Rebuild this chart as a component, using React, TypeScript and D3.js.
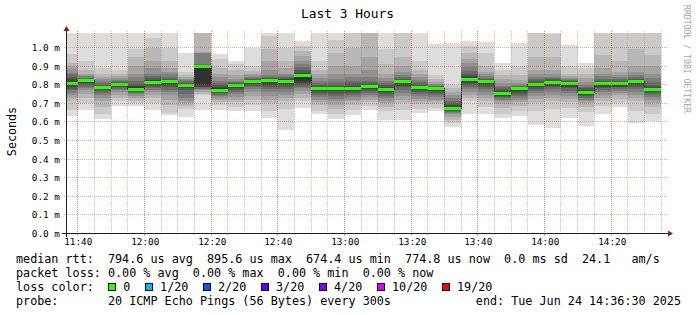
import React from 'react';
import * as d3 from 'd3';

// ---------- data ----------
const titleText = 'Last 3 Hours';
const yLabel = 'Seconds';
const watermark = 'RRDTOOL / TOBI OETIKER';
const yTicks = [0.0, 0.1, 0.2, 0.3, 0.4, 0.5, 0.6, 0.7, 0.8, 0.9, 1.0];
const yMax = 1.078;
const startTime = new Date(2025, 5, 24, 11, 36, 30);
const endTime = new Date(2025, 5, 24, 14, 36, 30);
const firstBarStart = new Date(2025, 5, 24, 11, 35, 0);
const stepMinutes = 5;

// median rtt per 5-minute step (ms)
const medians = [
  0.805, 0.82, 0.787, 0.80, 0.775, 0.813, 0.815, 0.796, 0.8956, 0.771,
  0.795, 0.819, 0.82, 0.818, 0.847, 0.78, 0.78, 0.78, 0.789, 0.775,
  0.817, 0.787, 0.78, 0.6744, 0.83, 0.818, 0.752, 0.777, 0.802, 0.813,
  0.807, 0.757, 0.807, 0.806, 0.815, 0.7748,
];

// 20 sorted ping rtts per step (ms)
const pings = [
  [0.631, 0.666, 0.711, 0.729, 0.747, 0.756, 0.769, 0.778, 0.787, 0.798, 0.816, 0.828, 0.841, 0.855, 0.864, 0.882, 0.90, 0.918, 0.963, 1.15],
  [0.666, 0.70, 0.73, 0.75, 0.77, 0.78, 0.79, 0.80, 0.81, 0.815, 0.824, 0.828, 0.832, 0.838, 0.845, 0.85, 0.86, 0.88, 0.927, 1.15],
  [0.618, 0.64, 0.68, 0.71, 0.73, 0.745, 0.755, 0.765, 0.775, 0.785, 0.79, 0.795, 0.80, 0.81, 0.82, 0.83, 0.84, 0.855, 0.89, 1.15],
  [0.684, 0.71, 0.73, 0.745, 0.76, 0.77, 0.778, 0.785, 0.79, 0.797, 0.805, 0.81, 0.815, 0.82, 0.825, 0.835, 0.845, 0.86, 0.88, 1.15],
  [0.684, 0.70, 0.715, 0.73, 0.74, 0.75, 0.755, 0.76, 0.765, 0.77, 0.785, 0.795, 0.805, 0.82, 0.84, 0.86, 0.90, 0.95, 0.99, 1.15],
  [0.666, 0.70, 0.73, 0.745, 0.76, 0.77, 0.78, 0.79, 0.80, 0.81, 0.82, 0.826, 0.835, 0.845, 0.86, 0.89, 0.93, 1.0, 1.05, 1.15],
  [0.636, 0.65, 0.69, 0.72, 0.745, 0.76, 0.77, 0.785, 0.80, 0.81, 0.82, 0.825, 0.83, 0.84, 0.855, 0.87, 0.89, 0.93, 1.0, 1.15],
  [0.625, 0.67, 0.685, 0.70, 0.71, 0.73, 0.75, 0.77, 0.78, 0.79, 0.80, 0.805, 0.81, 0.82, 0.825, 0.83, 0.84, 0.85, 0.87, 0.972],
  [0.666, 0.747, 0.75, 0.76, 0.77, 0.775, 0.778, 0.785, 0.79, 0.80, 0.8956, 0.903, 0.906, 0.91, 0.968, 0.972, 0.975, 1.09, 1.12, 1.15],
  [0.664, 0.69, 0.705, 0.72, 0.73, 0.74, 0.745, 0.755, 0.76, 0.765, 0.78, 0.79, 0.80, 0.81, 0.82, 0.84, 0.86, 0.89, 0.94, 0.967],
  [0.656, 0.68, 0.705, 0.72, 0.735, 0.75, 0.76, 0.77, 0.78, 0.79, 0.80, 0.805, 0.81, 0.815, 0.82, 0.83, 0.85, 0.88, 0.91, 0.927],
  [0.656, 0.69, 0.72, 0.74, 0.76, 0.775, 0.785, 0.795, 0.805, 0.815, 0.822, 0.825, 0.83, 0.835, 0.84, 0.85, 0.86, 0.875, 0.90, 0.996],
  [0.62, 0.66, 0.70, 0.72, 0.74, 0.76, 0.775, 0.79, 0.80, 0.815, 0.825, 0.83, 0.835, 0.84, 0.85, 0.88, 0.93, 0.99, 1.06, 1.15],
  [0.559, 0.67, 0.71, 0.73, 0.745, 0.76, 0.775, 0.79, 0.80, 0.815, 0.822, 0.83, 0.835, 0.84, 0.85, 0.86, 0.89, 0.93, 1.0, 1.15],
  [0.675, 0.71, 0.73, 0.75, 0.765, 0.78, 0.79, 0.80, 0.81, 0.82, 0.85, 0.865, 0.88, 0.895, 0.91, 0.93, 0.955, 0.98, 1.01, 1.033],
  [0.645, 0.66, 0.69, 0.705, 0.72, 0.735, 0.745, 0.755, 0.765, 0.775, 0.785, 0.79, 0.80, 0.81, 0.82, 0.835, 0.855, 0.88, 0.93, 1.15],
  [0.615, 0.64, 0.67, 0.69, 0.71, 0.725, 0.74, 0.75, 0.765, 0.775, 0.785, 0.79, 0.80, 0.815, 0.83, 0.86, 0.90, 0.97, 1.04, 1.15],
  [0.637, 0.665, 0.69, 0.71, 0.72, 0.735, 0.745, 0.755, 0.765, 0.775, 0.785, 0.795, 0.81, 0.82, 0.84, 0.86, 0.90, 1.0, 1.10, 1.15],
  [0.664, 0.685, 0.705, 0.72, 0.735, 0.745, 0.755, 0.765, 0.775, 0.785, 0.795, 0.80, 0.81, 0.82, 0.84, 0.88, 0.95, 1.08, 1.12, 1.15],
  [0.612, 0.66, 0.68, 0.70, 0.715, 0.73, 0.74, 0.75, 0.76, 0.77, 0.78, 0.79, 0.80, 0.81, 0.82, 0.835, 0.86, 0.91, 0.99, 1.15],
  [0.61, 0.665, 0.70, 0.72, 0.74, 0.755, 0.77, 0.785, 0.795, 0.81, 0.82, 0.825, 0.83, 0.84, 0.85, 0.87, 0.90, 0.95, 1.08, 1.15],
  [0.647, 0.67, 0.695, 0.71, 0.725, 0.74, 0.75, 0.76, 0.77, 0.78, 0.79, 0.795, 0.805, 0.815, 0.825, 0.84, 0.86, 0.88, 0.93, 1.15],
  [0.656, 0.675, 0.695, 0.71, 0.72, 0.735, 0.745, 0.755, 0.765, 0.775, 0.782, 0.785, 0.79, 0.795, 0.80, 0.805, 0.815, 0.83, 0.85, 1.02],
  [0.572, 0.595, 0.61, 0.625, 0.64, 0.65, 0.655, 0.66, 0.665, 0.67, 0.68, 0.69, 0.70, 0.715, 0.73, 0.745, 0.76, 0.78, 0.80, 1.022],
  [0.64, 0.71, 0.73, 0.745, 0.76, 0.775, 0.785, 0.80, 0.81, 0.82, 0.835, 0.845, 0.86, 0.875, 0.895, 0.915, 0.94, 0.97, 1.01, 1.033],
  [0.645, 0.68, 0.71, 0.73, 0.745, 0.76, 0.775, 0.79, 0.80, 0.81, 0.82, 0.825, 0.83, 0.835, 0.845, 0.855, 0.87, 0.90, 0.97, 1.03],
  [0.62, 0.645, 0.675, 0.695, 0.71, 0.72, 0.73, 0.735, 0.74, 0.745, 0.755, 0.765, 0.775, 0.785, 0.795, 0.81, 0.83, 0.85, 0.88, 0.918],
  [0.63, 0.66, 0.685, 0.705, 0.72, 0.73, 0.74, 0.75, 0.76, 0.77, 0.78, 0.785, 0.79, 0.795, 0.80, 0.81, 0.825, 0.85, 0.90, 1.026],
  [0.586, 0.66, 0.70, 0.725, 0.74, 0.755, 0.765, 0.775, 0.785, 0.795, 0.805, 0.81, 0.82, 0.83, 0.84, 0.855, 0.88, 0.95, 1.10, 1.15],
  [0.565, 0.67, 0.71, 0.73, 0.745, 0.76, 0.775, 0.785, 0.795, 0.805, 0.815, 0.822, 0.83, 0.835, 0.84, 0.855, 0.88, 0.95, 1.07, 1.12],
  [0.62, 0.675, 0.705, 0.725, 0.74, 0.755, 0.765, 0.78, 0.79, 0.80, 0.81, 0.815, 0.82, 0.825, 0.83, 0.835, 0.845, 0.86, 0.90, 1.013],
  [0.58, 0.655, 0.68, 0.70, 0.71, 0.72, 0.73, 0.74, 0.745, 0.752, 0.762, 0.77, 0.78, 0.79, 0.80, 0.815, 0.835, 0.86, 0.89, 0.918],
  [0.645, 0.685, 0.715, 0.73, 0.745, 0.76, 0.77, 0.78, 0.79, 0.80, 0.81, 0.815, 0.82, 0.83, 0.845, 0.86, 0.89, 0.96, 1.10, 1.15],
  [0.682, 0.70, 0.725, 0.745, 0.755, 0.765, 0.775, 0.785, 0.79, 0.80, 0.81, 0.815, 0.82, 0.83, 0.84, 0.85, 0.87, 0.93, 1.10, 1.15],
  [0.596, 0.66, 0.71, 0.73, 0.745, 0.76, 0.775, 0.79, 0.80, 0.81, 0.82, 0.825, 0.83, 0.84, 0.85, 0.87, 0.90, 0.99, 1.10, 1.15],
  [0.605, 0.64, 0.68, 0.70, 0.72, 0.735, 0.745, 0.755, 0.765, 0.775, 0.783, 0.79, 0.80, 0.815, 0.835, 0.86, 0.90, 0.96, 1.10, 1.15],
];

const lossLabels = ['0', '1/20', '2/20', '3/20', '4/20', '10/20', '19/20'];
const lossColors = ['#26ff00', '#00b8ff', '#0059ff', '#5e00ff', '#7e00ff', '#dd00ff', '#ff0000'];

const legendLine1 = 'median rtt:  794.6 us avg  895.6 us max  674.4 us min  774.8 us now  0.0 ms sd  24.1   am/s';
const legendLine2 = 'packet loss: 0.00 % avg  0.00 % max  0.00 % min  0.00 % now';
const legendLine3 = 'loss color:';
const legendLine4 = 'probe:       20 ICMP Echo Pings (56 Bytes) every 300s';
const legendEnd = 'end: Tue Jun 24 14:36:30 2025';

// ---------- layout ----------
const W = 697;
const H = 315;
const X0 = 66;
const X1 = 666;
const Y0 = 233;
const Y1 = 33;
const MONO = '"DejaVu Sans Mono", "Liberation Mono", monospace';
const CH = 7.07; // legend char advance

export default function App() {
  const x = d3.scaleTime().domain([startTime, endTime]).range([X0, X1]);
  const y = d3.scaleLinear().domain([0, yMax]).range([Y0 + 0.5, Y1]);

  const barStarts = medians.map((_, i) => d3.timeMinute.offset(firstBarStart, i * stepMinutes));
  const barEnd = (t: Date) => d3.timeMinute.offset(t, stepMinutes);

  // smokeping smoke colours (outermost band lightest)
  const half = 10;
  const smokeColors = d3.range(1, half + 1).map((i) => {
    const c = Math.floor((190 / half) * (half - i)) + 50;
    return d3.rgb(c, c, c).formatHex();
  });

  const majorTimes = d3.timeMinute.every(20)!.range(startTime, endTime);
  const minorTimes = d3.timeMinute.every(5)!.range(startTime, endTime);
  const fmt = d3.timeFormat('%H:%M');
  const px = (v: number) => Math.floor(v) + 0.5;

  const medPts: [number, number][] = barStarts.map((t, i) => [x(t), y(medians[i])]);
  medPts.push([x(barEnd(barStarts[barStarts.length - 1])), y(medians[medians.length - 1])]);
  const medPath = d3.line().curve(d3.curveStepAfter)(medPts) || '';

  const swidth = 1.5;

  // loss legend layout
  let lx = 108.3;
  const lossItems = lossLabels.map((lab, i) => {
    const item = { box: lx, text: lx + 15, lab, color: lossColors[i] };
    lx = lx + 29.7 + lab.length * CH;
    return item;
  });

  const gridGray = 'rgb(143,143,143)';
  const gridRed = 'rgb(222,79,79)';
  const grayOp = 0.45;
  const redOp = 0.5;

  return (
    <div style={{ position: 'absolute', left: 0, top: 0 }}>
      <svg width={W} height={H} viewBox={`0 0 ${W} ${H}`} style={{ display: 'block', background: '#ffffff' }}>
        <defs>
          <clipPath id="plotClip">
            <rect x={X0} y={Y1} width={X1 - X0} height={Y0 - Y1 + 0.5} />
          </clipPath>
        </defs>
        <rect x={0} y={0} width={W} height={H} fill="#ffffff" />

        {/* smoke */}
        <g clipPath="url(#plotClip)" shapeRendering="crispEdges">
          {barStarts.map((t, b) => {
            const xa = x(t);
            const xb = x(barEnd(t));
            const p = pings[b];
            return (
              <g key={b}>
                {smokeColors.map((c, i) => {
                  const lo = p[i];
                  const hi = p[19 - i];
                  return (
                    <rect key={i} x={xa} width={xb - xa} y={y(hi)} height={y(lo) - y(hi)} fill={c} />
                  );
                })}
              </g>
            );
          })}
          <path d={medPath} fill="none" stroke="#202020" strokeWidth={1} />
          {barStarts.map((t, b) => {
            const xa = x(t);
            const xb = x(barEnd(t));
            return (
              <rect key={'m' + b} x={xa} width={xb - xa} y={y(medians[b]) - swidth} height={swidth * 2} fill={lossColors[0]} />
            );
          })}
        </g>

        {/* grid */}
        <g shapeRendering="crispEdges">
          {minorTimes.map((t, i) => (
            <g key={'mi' + i}>
              <line x1={px(x(t))} x2={px(x(t))} y1={Y1 - 2} y2={Y0 + 2} stroke={gridGray} strokeOpacity={grayOp} strokeDasharray="1,1" />
              <line x1={px(x(t))} x2={px(x(t))} y1={Y0} y2={Y0 + 2} stroke={gridGray} strokeOpacity={grayOp} />
            </g>
          ))}
          {majorTimes.map((t, i) => (
            <g key={'ma' + i}>
              <line x1={px(x(t))} x2={px(x(t))} y1={Y1 - 2} y2={Y0 + 2} stroke={gridRed} strokeOpacity={redOp} strokeDasharray="1,1" />
              <line x1={px(x(t))} x2={px(x(t))} y1={Y0} y2={Y0 + 3} stroke={gridRed} strokeOpacity={redOp} />
            </g>
          ))}
          {yTicks.map((v, i) => (
            <line key={'h' + i} x1={X0 - 2} x2={X1 + 2} y1={px(y(v))} y2={px(y(v))} stroke={gridRed} strokeOpacity={redOp} strokeDasharray="1,1" />
          ))}
        </g>

        {/* axes */}
        <g shapeRendering="crispEdges">
          <line x1={X0 - 4} x2={X1 + 4} y1={Y0 + 0.5} y2={Y0 + 0.5} stroke="#1f1f1f" />
          <line x1={X0 + 0.5} x2={X0 + 0.5} y1={Y0 + 4} y2={Y1 - 4} stroke="#1f1f1f" />
        </g>
        <polygon points={`${X1 + 2},${Y0 - 2.5} ${X1 + 2},${Y0 + 3.5} ${X1 + 7},${Y0 + 0.5}`} fill="#801f1f" />
        <polygon points={`${X0 - 2.5},${Y1 - 2} ${X0 + 3.5},${Y1 - 2} ${X0 + 0.5},${Y1 - 7}`} fill="#801f1f" />

        {/* tick labels */}
        <g fontFamily={MONO} fontSize={9.4} fill="#000">
          {yTicks.map((v, i) => (
            <text key={'yl' + i} x={60} y={px(y(v)) + 3.4} textAnchor="end" style={{ whiteSpace: 'pre' }}>
              {d3.format('.1f')(v) + ' m'}
            </text>
          ))}
          {majorTimes.map((t, i) => (
            <text key={'xl' + i} x={px(x(t)) + 0.8} y={244.5} textAnchor="middle">
              {fmt(t)}
            </text>
          ))}
        </g>

        {/* title & labels */}
        <text x={347.5} y={18.3} textAnchor="middle" fontFamily={MONO} fontSize={12.9} fill="#000">
          {titleText}
        </text>
        <text transform="translate(15.5,131.5) rotate(-90)" textAnchor="middle" fontFamily={MONO} fontSize={11.7} fill="#000">
          {yLabel}
        </text>
        <text
          transform="translate(684.3,5) rotate(90)"
          fontFamily={MONO}
          fontSize={9.4}
          fill="#a4a4a4"
          textLength={108}
          lengthAdjust="spacingAndGlyphs"
        >
          {watermark}
        </text>

        {/* legend */}
        <g fontFamily={MONO} fontSize={11.75} fill="#000" style={{ whiteSpace: 'pre' }}>
          <text x={16} y={263.4} xmlSpace="preserve">{legendLine1}</text>
          <text x={16} y={277} xmlSpace="preserve">{legendLine2}</text>
          <text x={16} y={290.8} xmlSpace="preserve">{legendLine3}</text>
          {lossItems.map((it, i) => (
            <g key={'li' + i}>
              <rect x={Math.round(it.box) + 0.5} y={283.5} width={7} height={7} fill={it.color} stroke="#000" strokeWidth={1} shapeRendering="crispEdges" />
              <text x={it.text} y={290.8}>{it.lab}</text>
            </g>
          ))}
          <text x={16} y={304.6} xmlSpace="preserve">{legendLine4}</text>
          <text x={681} y={304.6} textAnchor="end" xmlSpace="preserve">{legendEnd}</text>
        </g>
      </svg>
    </div>
  );
}
